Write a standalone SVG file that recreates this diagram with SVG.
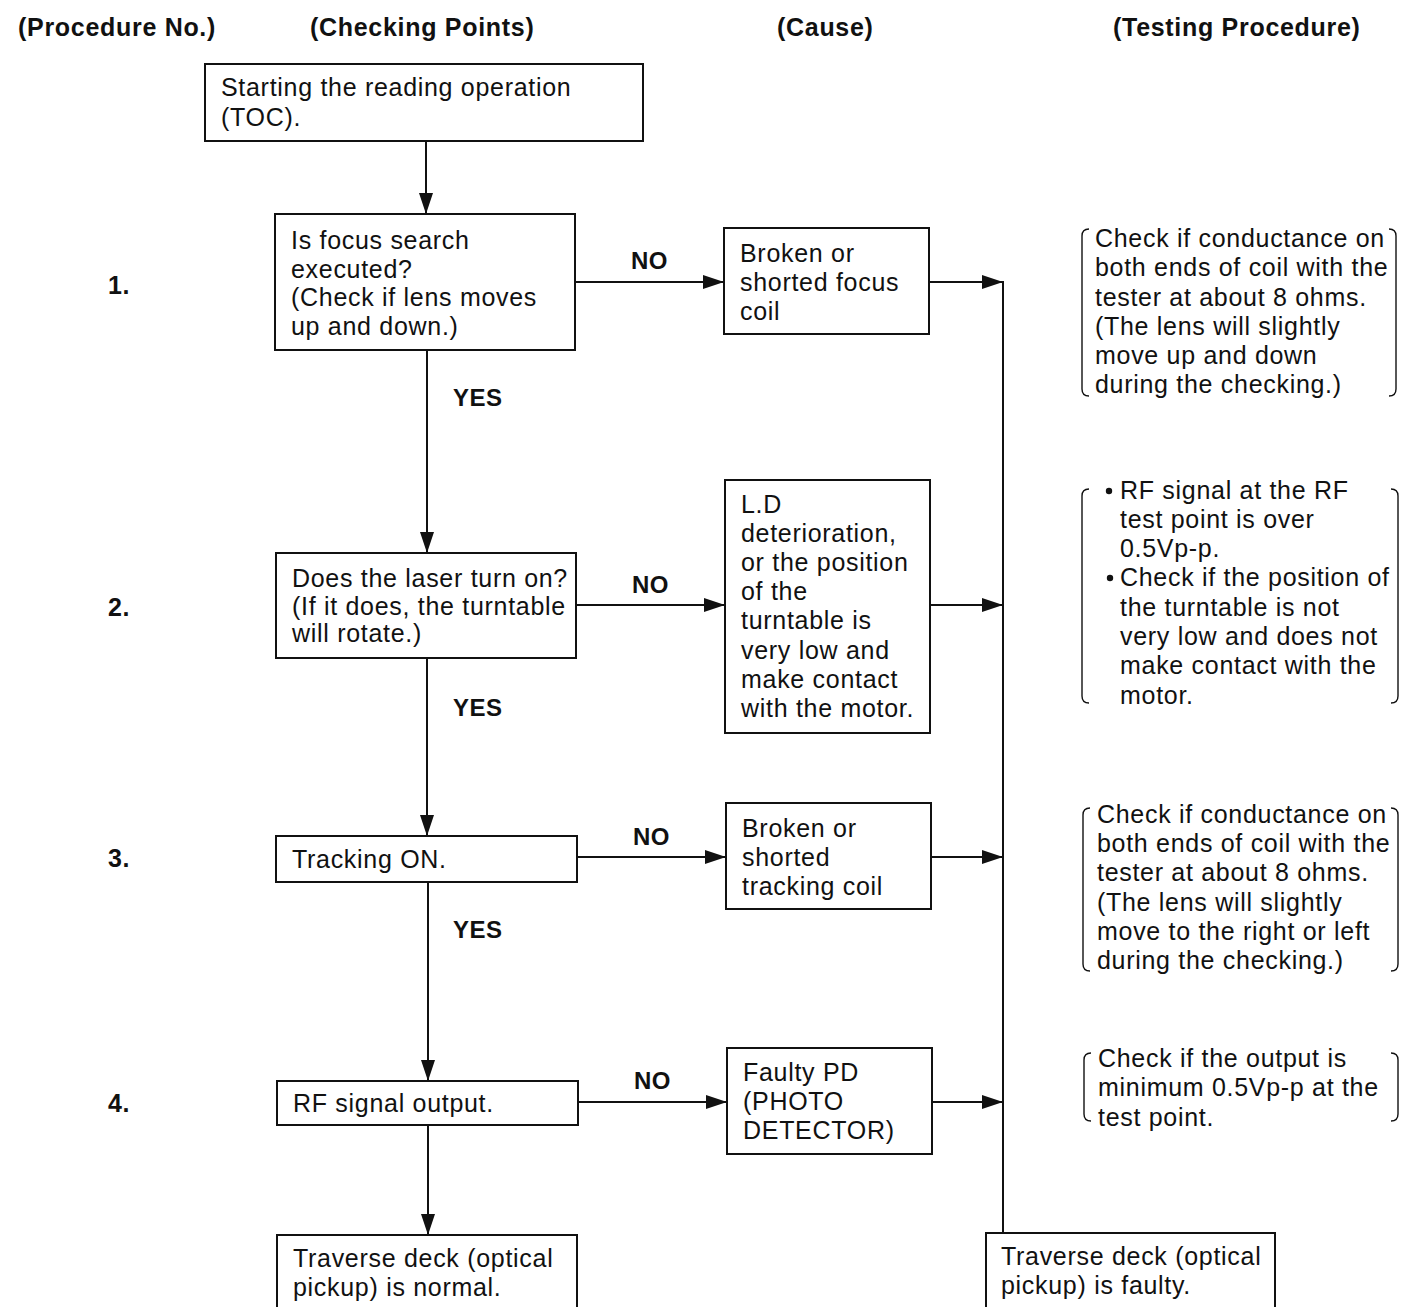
<svg xmlns="http://www.w3.org/2000/svg" width="1401" height="1307" viewBox="0 0 1401 1307">
<style>
text{font-family:"Liberation Sans",Arial,sans-serif;font-size:25px;letter-spacing:0.7px;fill:#111}
.h{font-weight:bold}
.lb{font-weight:bold;font-size:24px;letter-spacing:0.5px}
.box{fill:#fff;stroke:#111;stroke-width:2}
.ln{fill:none;stroke:#111;stroke-width:2}
.br{fill:none;stroke:#111;stroke-width:1.4}
</style>
<defs>
<marker id="ah" markerUnits="userSpaceOnUse" markerWidth="22" markerHeight="16" refX="21" refY="7" orient="auto">
<path d="M0,0 L21,7 L0,14 z" fill="#111"/>
</marker>
</defs>
<g id="headers">
<text class="h" x="18" y="36">(Procedure No.)</text>
<text class="h" x="310" y="36">(Checking Points)</text>
<text class="h" x="777" y="36">(Cause)</text>
<text class="h" x="1113" y="36">(Testing Procedure)</text>
</g>
<g id="procno">
<text class="h" x="108" y="294">1.</text>
<text class="h" x="108" y="616">2.</text>
<text class="h" x="108" y="867">3.</text>
<text class="h" x="108" y="1112">4.</text>
</g>
<g id="connectors">
<line class="ln" x1="426" y1="141" x2="426" y2="214" marker-end="url(#ah)"/>
<line class="ln" x1="427" y1="350" x2="427" y2="553" marker-end="url(#ah)"/>
<line class="ln" x1="427" y1="658" x2="427" y2="836" marker-end="url(#ah)"/>
<line class="ln" x1="428" y1="882" x2="428" y2="1081" marker-end="url(#ah)"/>
<line class="ln" x1="428" y1="1125" x2="428" y2="1235" marker-end="url(#ah)"/>
<line class="ln" x1="575" y1="282" x2="724" y2="282" marker-end="url(#ah)"/>
<line class="ln" x1="576" y1="605" x2="725" y2="605" marker-end="url(#ah)"/>
<line class="ln" x1="577" y1="857" x2="726" y2="857" marker-end="url(#ah)"/>
<line class="ln" x1="578" y1="1102" x2="727" y2="1102" marker-end="url(#ah)"/>
<line class="ln" x1="929" y1="282" x2="1003" y2="282" marker-end="url(#ah)"/>
<line class="ln" x1="930" y1="605" x2="1003" y2="605" marker-end="url(#ah)"/>
<line class="ln" x1="931" y1="857" x2="1003" y2="857" marker-end="url(#ah)"/>
<line class="ln" x1="932" y1="1102" x2="1003" y2="1102" marker-end="url(#ah)"/>
<line class="ln" x1="1003" y1="281" x2="1003" y2="1233"/>
<text class="lb" x="631" y="269">NO</text>
<text class="lb" x="632" y="593">NO</text>
<text class="lb" x="633" y="845">NO</text>
<text class="lb" x="634" y="1089">NO</text>
<text class="lb" x="453" y="406">YES</text>
<text class="lb" x="453" y="716">YES</text>
<text class="lb" x="453" y="938">YES</text>
</g>
<g id="start">
<rect class="box" x="205" y="64" width="438" height="77"/>
<text x="221" y="96">Starting the reading operation</text>
<text x="221" y="126">(TOC).</text>
</g>
<g id="check1">
<rect class="box" x="275" y="214" width="300" height="136"/>
<text x="291" y="249">Is focus search</text>
<text x="291" y="278">executed?</text>
<text x="291" y="306">(Check if lens moves</text>
<text x="291" y="335">up and down.)</text>
</g>
<g id="cause1">
<rect class="box" x="724" y="228" width="205" height="106"/>
<text x="740" y="262">Broken or</text>
<text x="740" y="291">shorted focus</text>
<text x="740" y="320">coil</text>
</g>
<g id="test1">
<path class="br" d="M1089,229 Q1082,229 1082,236 L1082,389 Q1082,396 1089,396"/>
<path class="br" d="M1389,229 Q1396,229 1396,236 L1396,389 Q1396,396 1389,396"/>
<text x="1095" y="247">Check if conductance on</text>
<text x="1095" y="276">both ends of coil with the</text>
<text x="1095" y="306">tester at about 8 ohms.</text>
<text x="1095" y="335">(The lens will slightly</text>
<text x="1095" y="364">move up and down</text>
<text x="1095" y="393">during the checking.)</text>
</g>
<g id="check2">
<rect class="box" x="276" y="553" width="300" height="105"/>
<text x="292" y="587">Does the laser turn on?</text>
<text x="292" y="615">(If it does, the turntable</text>
<text x="292" y="642">will rotate.)</text>
</g>
<g id="cause2">
<rect class="box" x="725" y="480" width="205" height="253"/>
<text x="741" y="513">L.D</text>
<text x="741" y="542">deterioration,</text>
<text x="741" y="571">or the position</text>
<text x="741" y="600">of the</text>
<text x="741" y="629">turntable is</text>
<text x="741" y="659">very low and</text>
<text x="741" y="688">make contact</text>
<text x="741" y="717">with the motor.</text>
</g>
<g id="test2">
<path class="br" d="M1089,489 Q1082,489 1082,496 L1082,696 Q1082,703 1089,703"/>
<path class="br" d="M1391,489 Q1398,489 1398,496 L1398,696 Q1398,703 1391,703"/>
<circle cx="1109" cy="491" r="3.2" fill="#111"/>
<circle cx="1110" cy="578" r="3.2" fill="#111"/>
<text x="1120" y="499">RF signal at the RF</text>
<text x="1120" y="528">test point is over</text>
<text x="1120" y="557">0.5Vp-p.</text>
<text x="1120" y="586">Check if the position of</text>
<text x="1120" y="616">the turntable is not</text>
<text x="1120" y="645">very low and does not</text>
<text x="1120" y="674">make contact with the</text>
<text x="1120" y="704">motor.</text>
</g>
<g id="check3">
<rect class="box" x="276" y="836" width="301" height="46"/>
<text x="292" y="868">Tracking ON.</text>
</g>
<g id="cause3">
<rect class="box" x="726" y="803" width="205" height="106"/>
<text x="742" y="837">Broken or</text>
<text x="742" y="866">shorted</text>
<text x="742" y="895">tracking coil</text>
</g>
<g id="test3">
<path class="br" d="M1090,808 Q1083,808 1083,815 L1083,964 Q1083,971 1090,971"/>
<path class="br" d="M1391,808 Q1398,808 1398,815 L1398,964 Q1398,971 1391,971"/>
<text x="1097" y="823">Check if conductance on</text>
<text x="1097" y="852">both ends of coil with the</text>
<text x="1097" y="881">tester at about 8 ohms.</text>
<text x="1097" y="911">(The lens will slightly</text>
<text x="1097" y="940">move to the right or left</text>
<text x="1097" y="969">during the checking.)</text>
</g>
<g id="check4">
<rect class="box" x="277" y="1081" width="301" height="44"/>
<text x="293" y="1112">RF signal output.</text>
</g>
<g id="cause4">
<rect class="box" x="727" y="1048" width="205" height="106"/>
<text x="743" y="1081">Faulty PD</text>
<text x="743" y="1110">(PHOTO</text>
<text x="743" y="1139">DETECTOR)</text>
</g>
<g id="test4">
<path class="br" d="M1091,1053 Q1084,1053 1084,1060 L1084,1114 Q1084,1121 1091,1121"/>
<path class="br" d="M1391,1053 Q1398,1053 1398,1060 L1398,1114 Q1398,1121 1391,1121"/>
<text x="1098" y="1067">Check if the output is</text>
<text x="1098" y="1096">minimum 0.5Vp-p at the</text>
<text x="1098" y="1126">test point.</text>
</g>
<g id="normal">
<rect class="box" x="277" y="1235" width="300" height="80"/>
<text x="293" y="1267">Traverse deck (optical</text>
<text x="293" y="1296">pickup) is normal.</text>
</g>
<g id="faulty">
<rect class="box" x="986" y="1233" width="289" height="82"/>
<text x="1001" y="1265">Traverse deck (optical</text>
<text x="1001" y="1294">pickup) is faulty.</text>
</g>
</svg>
